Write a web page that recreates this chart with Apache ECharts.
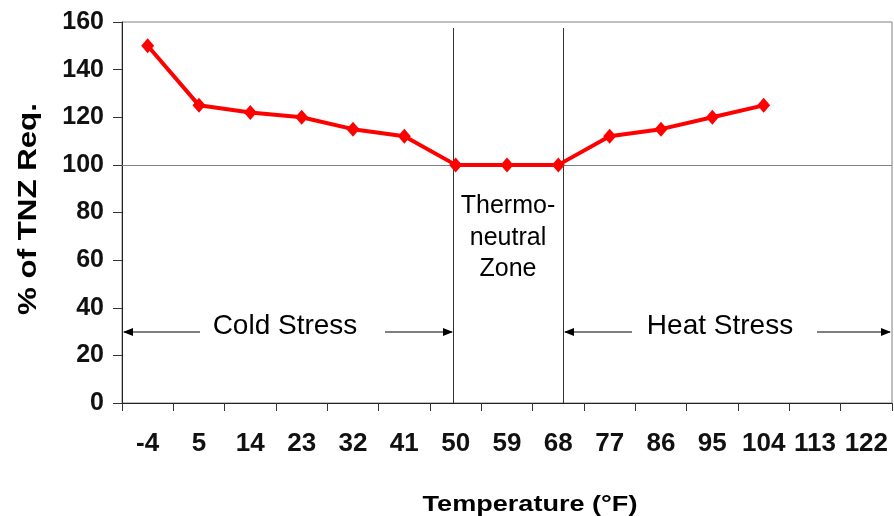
<!DOCTYPE html>
<html>
<head>
<meta charset="utf-8">
<script src="https://cdn.jsdelivr.net/npm/echarts@6.0.0/dist/echarts.min.js"></script>
<style>
html,body{margin:0;padding:0;background:#fff;}
#chart{width:894px;height:516px;}
</style>
</head>
<body>
<div id="chart"></div>
<script>
const categories = ['-4','5','14','23','32','41','50','59','68','77','86','95','104','113','122'];
const tnzValues = [150,125,122,120,115,112,100,100,100,112,115,120,125,null,null];
const yTicks = {min:0, max:160, interval:20};
const referenceLevel = 100;

const FONT = "'Liberation Sans', Arial, sans-serif";
const chart = echarts.init(document.getElementById('chart'));

function arrowHead(x, y, dir) {
  return {
    type: 'polygon',
    shape: {points: [[x, y], [x - dir * 10, y - 4], [x - dir * 10, y + 4]]},
    style: {fill: '#000'}
  };
}
function hline(x1, x2, y) {
  return {type: 'line', shape: {x1: x1, y1: y, x2: x2, y2: y}, style: {stroke: '#000', lineWidth: 1.2}};
}
function txt(x, y, s, size, weight, extra) {
  return Object.assign({
    type: 'text', x: x, y: y,
    style: {text: s, font: (weight || 'normal') + ' ' + size + 'px ' + FONT, fill: '#000', align: 'center', verticalAlign: 'middle'}
  }, extra || {});
}

const arrowY = 332;
chart.setOption({
  animation: false,
  grid: {left: 122, right: 2, top: 22, bottom: 113, show: true, borderColor: '#808080', borderWidth: 1, containLabel: false},
  xAxis: {
    type: 'category',
    data: categories,
    boundaryGap: true,
    axisLine: {lineStyle: {color: '#222', width: 1}},
    axisTick: {show: true, interval: 0, length: 8, lineStyle: {color: '#333'}},
    axisLabel: {interval: 0, margin: 28, fontSize: 26, fontWeight: 'bold', color: '#111', fontFamily: FONT},
    splitLine: {show: false}
  },
  yAxis: {
    type: 'value',
    min: yTicks.min, max: yTicks.max, interval: yTicks.interval,
    axisLine: {show: true, lineStyle: {color: '#222', width: 1}},
    axisTick: {show: true, length: 9, lineStyle: {color: '#333'}},
    axisLabel: {margin: 18, fontSize: 25, fontWeight: 'bold', color: '#111', fontFamily: FONT},
    splitLine: {show: false}
  },
  series: [{
    type: 'line',
    data: tnzValues,
    connectNulls: false,
    symbol: 'diamond',
    symbolSize: [13, 15],
    itemStyle: {color: '#ff0000'},
    lineStyle: {color: '#ff0000', width: 4},
    z: 5,
    markLine: {
      silent: true,
      symbol: ['none', 'none'],
      label: {show: false},
      lineStyle: {color: '#808080', width: 1, type: 'solid'},
      data: [{yAxis: referenceLevel}],
      z: 1
    }
  }],
  graphic: [
    {type: 'line', shape: {x1: 453.5, y1: 28, x2: 453.5, y2: 403}, style: {stroke: '#333', lineWidth: 1}},
    {type: 'line', shape: {x1: 563.5, y1: 28, x2: 563.5, y2: 403}, style: {stroke: '#333', lineWidth: 1}},
    hline(124, 200, arrowY), arrowHead(123, arrowY, -1),
    hline(385, 452, arrowY), arrowHead(453, arrowY, 1),
    txt(285, 326, 'Cold Stress', 28),
    hline(565, 632, arrowY), arrowHead(564, arrowY, -1),
    hline(817, 890, arrowY), arrowHead(891, arrowY, 1),
    txt(720, 326, 'Heat Stress', 28),
    txt(508, 206, 'Thermo-', 25),
    txt(508, 238, 'neutral', 25),
    txt(508, 269, 'Zone', 25),
    txt(530, 505, 'Temperature (\u00B0F)', 22, 'bold', {scaleX: 1.23}),
    txt(29, 209, '% of TNZ Req.', 25, 'bold', {rotation: Math.PI / 2, scaleX: 1.25})
  ]
});
</script>
</body>
</html>
